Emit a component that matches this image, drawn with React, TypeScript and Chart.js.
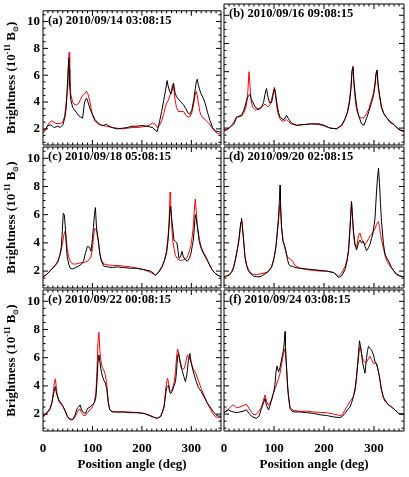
import React, { useEffect, useRef } from 'react';
import { Chart, registerables } from 'chart.js';

Chart.register(...registerables);

const FONT = "'Liberation Serif', 'Times New Roman', Times, serif";
const W = 409;
const H = 477;

const Y_MIN = 0.8;
const Y_MAX = 10.8;
const X_MIN = 0;
const X_MAX = 360;
const Y_TICKS = [2, 4, 6, 8, 10];
const X_TICKS = [0, 100, 200, 300];
const X_TITLE = 'Position angle (deg)';

const labels = [
  '(a) 2010/09/14 03:08:15',
  '(b) 2010/09/16 09:08:15',
  '(c) 2010/09/18 05:08:15',
  '(d) 2010/09/20 02:08:15',
  '(e) 2010/09/22 00:08:15',
  '(f) 2010/09/24 03:08:15',
];

// ---- panel (a)
const anglesA = [0, 5, 10, 15, 18, 22, 26, 30, 35, 40, 44, 47, 50, 52, 53, 54, 56, 60, 64, 68, 72, 76, 80, 84, 88, 91, 95, 100, 105, 110, 116, 122, 128, 134, 140, 150, 160, 170, 180, 190, 200, 210, 216, 222, 227, 231, 236, 240, 244, 248, 251, 253, 256, 259, 262, 264, 267, 270, 274, 279, 284, 289, 293, 297, 301, 305, 308, 310, 312, 314, 317, 320, 324, 328, 333, 338, 343, 348, 354, 360];
const blackA = [1.8, 2.0, 2.25, 2.3, 2.25, 2.1, 2.15, 2.2, 2.1, 2.3, 2.8, 3.6, 5.8, 7.3, 6.4, 5.2, 4.2, 3.6, 3.4, 3.2, 3.0, 2.9, 2.8, 4.0, 4.3, 4.0, 3.5, 3.1, 2.7, 2.5, 2.3, 2.25, 2.35, 2.2, 2.1, 2.0, 2.05, 2.1, 2.2, 2.2, 2.25, 2.2, 2.15, 2.1, 1.9, 1.8, 2.6, 3.3, 4.1, 4.9, 5.6, 5.2, 4.8, 4.6, 5.0, 5.4, 4.7, 4.4, 4.2, 4.0, 3.8, 3.5, 3.2, 3.1, 3.4, 4.2, 5.0, 5.5, 5.7, 5.3, 4.9, 4.6, 4.3, 3.9, 3.2, 2.6, 2.1, 1.85, 1.8, 1.75];
const redA = [1.7, 1.9, 2.3, 2.55, 2.6, 2.5, 2.4, 2.4, 2.4, 2.5, 3.0, 4.0, 5.0, 7.0, 7.7, 6.2, 4.6, 4.0, 3.8, 3.8, 3.9, 4.2, 4.5, 4.6, 4.8, 4.6, 4.0, 3.0, 2.6, 2.4, 2.3, 2.25, 2.2, 2.15, 2.1, 2.05, 2.0, 2.05, 2.1, 2.1, 2.15, 2.2, 2.3, 2.45, 2.35, 2.1, 2.3, 2.6, 3.1, 3.7, 4.0, 4.1, 4.4, 4.8, 5.3, 5.2, 4.2, 3.6, 3.3, 3.3, 3.3, 3.0, 2.9, 2.9, 3.2, 3.9, 4.6, 4.8, 4.5, 4.0, 3.3, 3.0, 2.8, 2.7, 2.5, 2.3, 2.0, 1.8, 1.65, 1.6];

// ---- panel (b)
const anglesB = [0, 5, 10, 15, 20, 25, 30, 35, 40, 44, 47, 50, 52, 54, 57, 62, 66, 70, 75, 79, 82, 85, 88, 91, 95, 98, 101, 103, 106, 109, 112, 116, 120, 125, 129, 135, 145, 160, 175, 190, 200, 212, 225, 235, 242, 247, 251, 254, 256, 258, 260, 263, 266, 270, 275, 280, 285, 290, 295, 299, 302, 304, 306, 308, 311, 315, 320, 326, 332, 340, 348, 354, 360];
const blackB = [1.85, 1.9, 2.0, 2.15, 2.3, 2.75, 2.85, 2.9, 3.3, 3.8, 4.2, 4.3, 4.4, 4.1, 3.9, 3.5, 3.4, 3.3, 3.5, 3.8, 4.4, 4.8, 4.2, 3.8, 3.8, 4.3, 4.8, 4.5, 3.7, 3.1, 2.8, 2.65, 2.6, 2.9, 2.65, 2.35, 2.2, 2.25, 2.3, 2.3, 2.2, 2.0, 1.95, 2.2, 2.65, 3.1, 3.8, 4.8, 6.0, 6.3, 5.2, 4.2, 3.4, 2.8, 2.3, 2.2, 2.7, 3.2, 3.8, 4.3, 5.0, 5.8, 6.1, 5.2, 4.4, 3.5, 3.0, 2.7, 2.4, 2.25, 1.95, 1.85, 1.8];
const redB = [1.8, 1.85, 2.0, 2.2, 2.45, 2.8, 2.8, 2.85, 3.1, 3.5, 4.2, 6.0, 5.0, 4.0, 3.5, 3.3, 3.3, 3.4, 3.5, 3.6, 3.7, 3.6, 3.5, 3.6, 4.0, 4.5, 4.9, 4.3, 3.4, 2.9, 2.65, 2.5, 2.5, 2.6, 2.45, 2.3, 2.2, 2.25, 2.3, 2.25, 2.15, 2.0, 1.95, 2.15, 2.6, 3.2, 4.0, 5.0, 6.1, 6.4, 5.0, 3.8, 3.2, 2.8, 2.7, 2.75, 3.0, 3.4, 4.0, 4.5, 5.2, 5.9, 6.1, 5.0, 4.2, 3.4, 3.0, 2.7, 2.5, 2.25, 1.95, 1.8, 1.75];

// ---- panel (c)
const anglesC = [0, 5, 10, 15, 20, 25, 30, 34, 37, 39, 41, 43, 45, 47, 49, 52, 55, 60, 66, 72, 78, 82, 86, 90, 94, 97, 100, 102, 104, 106, 108, 110, 112, 115, 118, 123, 130, 140, 150, 163, 177, 190, 204, 218, 228, 235, 241, 246, 250, 253, 255, 257, 258, 260, 262, 265, 268, 271, 275, 278, 281, 284, 288, 292, 296, 299, 302, 304, 306, 308, 310, 312, 316, 320, 325, 330, 336, 342, 348, 354, 360];
const blackC = [1.6, 1.7, 1.85, 2.05, 2.2, 2.4, 2.65, 3.1, 3.7, 4.8, 6.1, 6.0, 5.2, 3.9, 3.0, 2.5, 2.2, 2.15, 2.25, 2.35, 2.5, 2.7, 3.3, 3.75, 3.7, 3.4, 4.3, 5.1, 6.0, 6.5, 5.2, 4.5, 4.2, 3.2, 2.7, 2.35, 2.3, 2.25, 2.3, 2.25, 2.2, 2.2, 2.1, 2.0, 1.7, 2.0, 2.35, 2.8, 3.3, 4.2, 5.2, 6.4, 6.6, 5.8, 5.2, 4.2, 4.1, 4.0, 2.9, 3.0, 3.4, 3.0, 2.8, 2.7, 2.9, 3.2, 3.8, 4.2, 5.0, 6.0, 5.7, 5.2, 4.1, 3.6, 3.2, 2.9, 2.5, 2.1, 1.85, 1.7, 1.6];
const redC = [1.6, 1.7, 1.85, 2.05, 2.25, 2.45, 2.7, 3.1, 3.5, 3.9, 4.3, 4.7, 4.85, 4.3, 3.6, 3.0, 2.7, 2.5, 2.5, 2.55, 2.6, 2.6, 2.65, 2.7, 2.85, 3.0, 3.6, 4.3, 5.0, 5.0, 4.9, 4.7, 4.0, 3.2, 2.8, 2.5, 2.45, 2.4, 2.4, 2.35, 2.3, 2.2, 2.1, 1.9, 1.7, 1.95, 2.3, 2.8, 3.5, 4.5, 5.6, 7.6, 7.3, 5.5, 4.3, 3.6, 3.1, 2.9, 2.8, 2.75, 2.75, 2.8, 2.85, 3.0, 3.4, 3.8, 4.5, 5.2, 6.3, 7.1, 6.2, 5.3, 4.3, 3.7, 3.3, 3.0, 2.5, 2.1, 1.85, 1.7, 1.6];

// ---- panel (d)
const anglesD = [0, 5, 10, 15, 19, 23, 27, 30, 32, 34, 35, 37, 39, 42, 45, 49, 54, 59, 65, 72, 80, 88, 95, 100, 104, 107, 109, 111, 112, 113, 115, 118, 121, 124, 127, 130, 133, 137, 142, 152, 165, 179, 192, 205, 219, 225, 229, 235, 242, 246, 249, 251, 253, 255, 257, 259, 262, 265, 269, 272, 275, 279, 282, 285, 289, 292, 295, 298, 302, 305, 307, 309, 311, 313, 315, 319, 322, 326, 330, 335, 340, 345, 352, 360];
const blackD = [1.6, 1.65, 1.7, 1.9, 2.2, 2.8, 3.6, 4.3, 5.0, 5.5, 5.75, 5.0, 4.3, 3.0, 2.4, 2.0, 1.8, 1.65, 1.6, 1.6, 1.75, 1.95, 2.25, 2.9, 3.8, 5.0, 5.8, 7.2, 8.1, 7.0, 5.1, 4.1, 3.8, 3.4, 2.8, 2.45, 2.35, 2.35, 2.25, 2.2, 2.15, 2.1, 2.05, 2.0, 1.9, 1.7, 1.55, 1.65, 2.1, 2.7, 3.4, 4.4, 5.6, 6.95, 5.8, 4.8, 3.9, 3.5, 4.0, 4.2, 4.0, 4.1, 3.75, 3.45, 3.65, 3.9, 4.3, 4.7, 5.75, 7.6, 8.6, 9.3, 8.2, 6.8, 5.5, 3.9, 3.2, 2.9, 2.65, 2.25, 2.0, 1.75, 1.65, 1.6];
const redD = [1.6, 1.65, 1.75, 1.95, 2.3, 2.9, 3.6, 4.2, 4.8, 5.5, 5.7, 5.2, 4.2, 3.0, 2.5, 2.1, 1.85, 1.75, 1.75, 1.8, 1.85, 1.95, 2.3, 2.9, 3.7, 4.8, 5.6, 6.4, 6.7, 6.3, 5.2, 4.2, 3.8, 3.3, 3.0, 2.9, 2.85, 2.7, 2.4, 2.2, 2.1, 2.05, 2.0, 2.0, 1.9, 1.75, 1.65, 1.85, 2.3, 2.8, 3.5, 4.6, 5.8, 6.9, 5.8, 4.6, 3.8, 3.7, 4.5, 4.7, 4.3, 4.0, 3.9, 4.0, 4.3, 4.5, 4.6, 4.8, 5.0, 5.3, 5.45, 5.5, 5.1, 4.6, 4.2, 3.6, 3.1, 2.7, 2.45, 2.2, 2.0, 1.8, 1.65, 1.6];

// ---- panel (e)
const anglesE = [0, 5, 10, 14, 18, 21, 23, 25, 27, 29, 32, 36, 40, 45, 50, 55, 60, 65, 69, 72, 75, 78, 82, 86, 90, 95, 100, 104, 107, 109, 111, 113, 115, 117, 120, 123, 126, 129, 132, 135, 140, 150, 163, 175, 190, 204, 218, 226, 231, 238, 242, 245, 248, 250, 252, 254, 256, 258, 261, 265, 268, 270, 272, 274, 276, 279, 282, 285, 288, 290, 292, 294, 297, 300, 304, 309, 314, 320, 326, 332, 338, 344, 350, 355, 360];
const blackE = [1.85, 2.0, 2.2, 2.4, 2.8, 3.35, 3.7, 3.95, 3.5, 3.3, 3.0, 2.8, 2.6, 2.2, 1.8, 1.65, 1.6, 1.95, 2.4, 2.5, 2.65, 2.3, 2.1, 2.05, 2.4, 2.5, 2.65, 2.8, 3.2, 4.2, 5.6, 6.2, 5.7, 5.2, 4.7, 4.4, 4.2, 3.8, 2.8, 2.3, 2.15, 2.15, 2.15, 2.1, 2.1, 2.05, 1.85, 1.75, 1.7, 1.85, 2.2, 2.5, 3.4, 3.9, 3.95, 4.05, 3.6, 3.45, 3.6, 4.0, 4.3, 5.0, 6.05, 6.3, 6.0, 5.5, 5.0, 4.65, 4.3, 4.6, 5.1, 5.8, 6.3, 5.6, 5.0, 4.4, 3.9, 3.6, 3.2, 2.8, 2.5, 2.2, 1.95, 1.85, 1.85];
const redE = [1.8, 1.95, 2.15, 2.3, 2.8, 3.6, 4.2, 4.5, 3.9, 3.3, 2.9, 2.7, 2.55, 2.2, 1.75, 1.6, 1.6, 1.8, 2.1, 2.3, 2.35, 2.1, 1.9, 1.9, 2.1, 2.3, 2.5, 2.9, 3.5, 5.0, 7.0, 7.8, 6.5, 5.8, 5.3, 5.1, 4.8, 4.1, 2.9, 2.3, 2.2, 2.15, 2.15, 2.15, 2.1, 2.05, 1.9, 1.75, 1.7, 1.8, 2.2, 2.6, 3.7, 4.3, 4.55, 4.2, 3.7, 3.6, 3.7, 4.2, 5.0, 6.0, 6.6, 6.4, 5.9, 5.3, 5.2, 5.2, 5.5, 5.9, 6.2, 6.1, 5.9, 5.6, 5.2, 4.9, 4.4, 3.8, 3.3, 2.8, 2.4, 2.0, 1.8, 1.75, 1.8];

// ---- panel (f)
const anglesF = [0, 4, 9, 14, 19, 25, 32, 38, 45, 50, 55, 60, 65, 70, 75, 79, 82, 85, 89, 92, 95, 99, 102, 104, 106, 109, 112, 115, 117, 119, 121, 122, 123, 125, 127, 129, 132, 136, 142, 152, 165, 179, 192, 205, 219, 232, 237, 242, 247, 252, 256, 259, 262, 265, 267, 269, 271, 273, 275, 277, 279, 282, 285, 287, 289, 292, 295, 299, 302, 305, 309, 312, 315, 319, 322, 329, 335, 342, 349, 355, 360];
const blackF = [2.1, 2.2, 2.3, 2.2, 2.15, 2.1, 2.15, 2.2, 2.3, 2.05, 1.85, 1.75, 1.7, 1.85, 2.4, 2.8, 3.1, 2.6, 2.3, 2.6, 3.0, 3.5, 4.1, 5.0, 5.4, 5.0, 5.3, 5.85, 6.2, 6.55, 7.3, 7.85, 6.8, 5.3, 4.0, 3.2, 2.4, 2.2, 2.15, 2.15, 2.1, 2.05, 1.95, 1.9, 1.8, 1.75, 1.85, 2.05, 2.3, 2.5, 2.9, 3.25, 3.8, 4.65, 5.5, 6.3, 7.2, 6.8, 6.3, 5.7, 5.35, 4.9, 5.95, 6.5, 6.8, 6.65, 6.55, 6.2, 5.7, 5.6, 5.0, 4.4, 3.7, 3.2, 3.0, 2.65, 2.5, 2.3, 2.05, 2.0, 2.0];
const redF = [2.1, 2.2, 2.35, 2.55, 2.65, 2.45, 2.5, 2.6, 2.7, 2.4, 2.1, 1.95, 2.0, 2.2, 2.5, 3.0, 3.35, 2.9, 2.6, 2.8, 3.0, 3.5, 3.8, 4.0, 4.2, 4.5, 4.9, 5.5, 5.9, 6.3, 6.6, 6.6, 6.2, 5.4, 4.2, 3.3, 2.5, 2.3, 2.25, 2.2, 2.2, 2.15, 2.12, 2.1, 2.0, 1.9, 1.95, 2.3, 2.6, 2.9, 3.1, 3.3, 3.6, 4.5, 5.3, 6.0, 6.7, 6.8, 6.3, 6.0, 5.8, 5.65, 5.7, 5.8, 5.95, 6.1, 5.85, 5.6, 5.6, 5.55, 5.0, 4.4, 3.7, 3.1, 2.9, 2.65, 2.5, 2.3, 2.05, 2.0, 2.0];

const panels = [
  { label: labels[0], angles: anglesA, black: blackA, red: redA, row: 0, col: 0 },
  { label: labels[1], angles: anglesB, black: blackB, red: redB, row: 0, col: 1 },
  { label: labels[2], angles: anglesC, black: blackC, red: redC, row: 1, col: 0 },
  { label: labels[3], angles: anglesD, black: blackD, red: redD, row: 1, col: 1 },
  { label: labels[4], angles: anglesE, black: blackE, red: redE, row: 2, col: 0 },
  { label: labels[5], angles: anglesF, black: blackF, red: redF, row: 2, col: 1 },
];

// layout (pixels)
const COLS = [
  { left: 43, right: 221 },
  { left: 224, right: 404 },
];
const ROWS = [
  { top: 4, bottom: 145 },
  { top: 147, bottom: 288 },
  { top: 290, bottom: 431 },
];
const BOTTOM_PAD = 5;

function drawYTitle(ctx: CanvasRenderingContext2D, cx: number, cy: number) {
  const parts = [
    { t: 'Brightness (10', size: 13, dy: 0 },
    { t: '-11', size: 8, dy: -5 },
    { t: ' B', size: 13, dy: 0 },
    { t: '\u2299', size: 7, dy: 3 },
    { t: ')', size: 13, dy: 0 },
  ];
  let total = 0;
  const widths: number[] = [];
  for (const p of parts) {
    ctx.font = `bold ${p.size}px ${FONT}`;
    const w = ctx.measureText(p.t).width;
    widths.push(w);
    total += w;
  }
  ctx.save();
  ctx.translate(cx, cy);
  ctx.rotate(-Math.PI / 2);
  ctx.fillStyle = '#000';
  ctx.textBaseline = 'alphabetic';
  ctx.textAlign = 'left';
  let x = -total / 2;
  parts.forEach((p, i) => {
    ctx.font = `bold ${p.size}px ${FONT}`;
    ctx.fillText(p.t, x, p.dy);
    x += widths[i];
  });
  ctx.restore();
}

const decorPlugin = {
  id: 'panelDecor',
  afterDatasetsDraw(chart: any, _args: any, opts: any) {
    const ctx: CanvasRenderingContext2D = chart.ctx;
    const { left, right, top, bottom } = chart.chartArea;
    const xs = chart.scales.x;
    const ys = chart.scales.y;
    ctx.save();
    ctx.strokeStyle = '#000';
    ctx.lineWidth = 1;
    ctx.beginPath();
    ctx.rect(left, top, right - left, bottom - top);
    ctx.stroke();
    ctx.beginPath();
    for (let v = 10; v < X_MAX; v += 10) {
      const px = xs.getPixelForValue(v);
      const len = v % 100 === 0 ? 5 : 2.5;
      ctx.moveTo(px, bottom);
      ctx.lineTo(px, bottom - len);
      ctx.moveTo(px, top);
      ctx.lineTo(px, top + len);
    }
    for (let v = 1; v <= 10.5; v += 0.5) {
      const py = ys.getPixelForValue(v);
      const len = v % 2 === 0 ? 5 : 2.5;
      ctx.moveTo(left, py);
      ctx.lineTo(left + len, py);
      ctx.moveTo(right, py);
      ctx.lineTo(right - len, py);
    }
    ctx.stroke();
    ctx.fillStyle = '#000';
    ctx.font = `bold 12.5px ${FONT}`;
    ctx.textBaseline = 'alphabetic';
    ctx.textAlign = 'left';
    ctx.fillText(opts.label, left + 5, top + 13);
    if (opts.yTitle) {
      drawYTitle(ctx, 15, (top + bottom) / 2);
    }
    ctx.restore();
  },
};

function PanelChart({ panel }: { panel: any }) {
  const ref = useRef<HTMLCanvasElement | null>(null);
  useEffect(() => {
    if (!ref.current) return;
    const showY = panel.col === 0;
    const showX = panel.row === 2;
    const col = COLS[panel.col];
    const row = ROWS[panel.row];
    const black = panel.angles.map((a: number, i: number) => ({ x: a, y: panel.black[i] }));
    const red = panel.angles.map((a: number, i: number) => ({ x: a, y: panel.red[i] }));
    const chart = new Chart(ref.current, {
      type: 'line',
      data: {
        datasets: [
          { label: 'observed', data: black, borderColor: '#000000', borderWidth: 1, pointRadius: 0, tension: 0, fill: false },
          { label: 'model', data: red, borderColor: '#ff0000', borderWidth: 1, pointRadius: 0, tension: 0, fill: false },
        ],
      },
      options: {
        animation: false,
        responsive: false,
        devicePixelRatio: 1,
        events: [],
        layout: {
          padding: {
            left: showY ? 0 : col.left,
            right: W - col.right,
            top: row.top,
            bottom: showX ? BOTTOM_PAD : H - row.bottom,
          },
        },
        plugins: {
          legend: { display: false },
          tooltip: { enabled: false },
          title: { display: false },
          panelDecor: { label: panel.label, yTitle: showY },
        } as any,
        scales: {
          x: {
            type: 'linear',
            min: X_MIN,
            max: X_MAX,
            display: showX,
            grid: { display: false, drawTicks: false },
            border: { display: false },
            ticks: {
              autoSkip: false,
              maxRotation: 0,
              padding: 10,
              color: '#000',
              font: { family: FONT, size: 13, weight: 'bold' },
            },
            afterBuildTicks: (s: any) => {
              s.ticks = X_TICKS.map((v) => ({ value: v }));
            },
            afterFit: (s: any) => {
              s.height = showX ? H - ROWS[2].bottom - BOTTOM_PAD : 0;
            },
            title: {
              display: showX,
              text: X_TITLE,
              color: '#000',
              padding: 0,
              font: { family: FONT, size: 13, weight: 'bold' },
            },
          },
          y: {
            type: 'linear',
            min: Y_MIN,
            max: Y_MAX,
            display: showY,
            grid: { display: false, drawTicks: false },
            border: { display: false },
            ticks: {
              padding: 3,
              color: '#000',
              font: { family: FONT, size: 13, weight: 'bold' },
            },
            afterBuildTicks: (s: any) => {
              s.ticks = Y_TICKS.map((v) => ({ value: v }));
            },
            afterFit: (s: any) => {
              s.width = showY ? COLS[0].left : 0;
            },
          },
        },
      } as any,
      plugins: [decorPlugin],
    });
    return () => chart.destroy();
  }, [panel]);
  return (
    <canvas
      ref={ref}
      width={W}
      height={H}
      style={{ position: 'absolute', left: 0, top: 0, width: W, height: H }}
    />
  );
}

export default function App() {
  return (
    <div style={{ position: 'fixed', left: 0, top: 0, width: W, height: H, background: '#fff' }}>
      {panels.map((p) => (
        <PanelChart key={p.label} panel={p} />
      ))}
    </div>
  );
}
